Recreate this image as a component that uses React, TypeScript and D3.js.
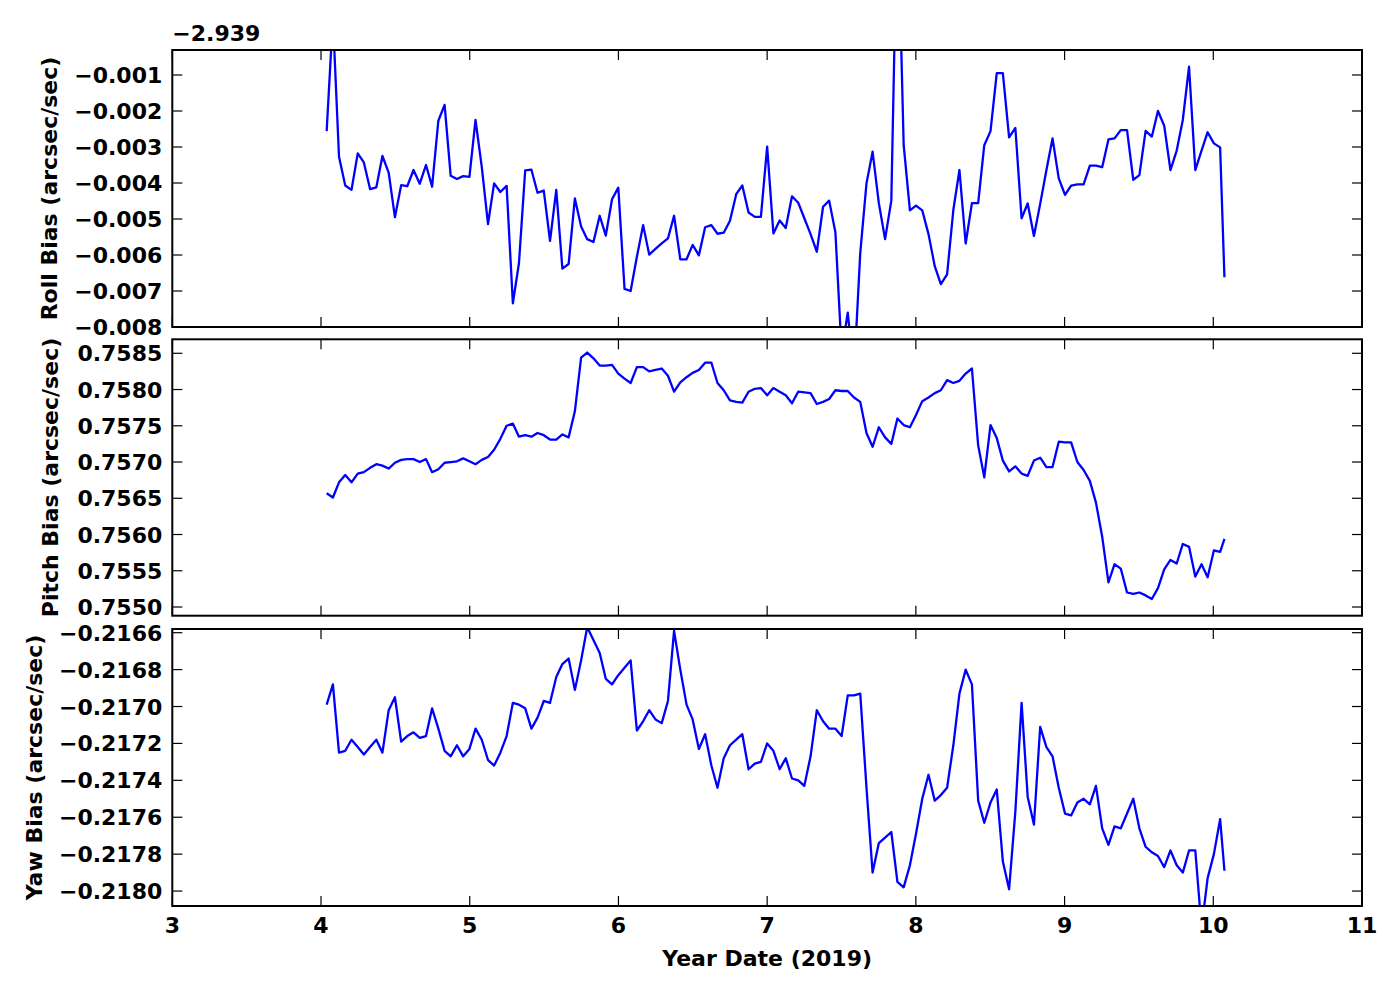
import React from 'react';
import * as d3 from 'd3';

// Year dates (2019) of each sample
const yearDates = [
  4.038, 4.080, 4.121, 4.163, 4.205, 4.247, 4.288, 4.330, 4.372, 4.413,
  4.455, 4.497, 4.539, 4.580, 4.622, 4.664, 4.706, 4.747, 4.789, 4.831,
  4.872, 4.914, 4.956, 4.998, 5.039, 5.081, 5.123, 5.164, 5.206, 5.248,
  5.290, 5.331, 5.373, 5.415, 5.456, 5.498, 5.540, 5.582, 5.623, 5.665,
  5.707, 5.749, 5.790, 5.832, 5.874, 5.915, 5.957, 5.999, 6.041, 6.082,
  6.124, 6.166, 6.207, 6.249, 6.291, 6.333, 6.374, 6.416, 6.458, 6.499,
  6.541, 6.583, 6.625, 6.666, 6.708, 6.750, 6.792, 6.833, 6.875, 6.917,
  6.958, 7.000, 7.042, 7.084, 7.125, 7.167, 7.209, 7.250, 7.292, 7.334,
  7.376, 7.417, 7.459, 7.501, 7.542, 7.584, 7.626, 7.668, 7.709, 7.751,
  7.793, 7.835, 7.876, 7.918, 7.960, 8.001, 8.043, 8.085, 8.127, 8.168,
  8.210, 8.252, 8.293, 8.335, 8.377, 8.419, 8.460, 8.502, 8.544, 8.585,
  8.627, 8.669, 8.711, 8.752, 8.794, 8.836, 8.878, 8.919, 8.961, 9.003,
  9.044, 9.086, 9.128, 9.170, 9.211, 9.253, 9.295, 9.336, 9.378, 9.420,
  9.462, 9.503, 9.545, 9.587, 9.628, 9.670, 9.712, 9.754, 9.795, 9.837,
  9.879, 9.921, 9.962, 10.004, 10.046, 10.075,
];

// Roll bias, shown relative to the axis offset
const ROLL_OFFSET = -2.939;
const rollBias = [
  -0.00256, 0.0006, -0.00327, -0.00407, -0.00419, -0.00318, -0.00343, -0.00417, -0.00412, -0.00325,
  -0.00371, -0.00495, -0.00406, -0.00409, -0.00364, -0.00402, -0.0035, -0.0041, -0.00227, -0.00183,
  -0.0038, -0.00389, -0.00381, -0.00383, -0.00225, -0.00355, -0.00514, -0.00401, -0.00425, -0.00408,
  -0.00734, -0.00623, -0.00365, -0.00363, -0.00427, -0.00421, -0.00561, -0.00419, -0.00638, -0.00625,
  -0.00443, -0.00521, -0.00556, -0.00564, -0.00491, -0.00546, -0.00445, -0.00413, -0.00694, -0.007,
  -0.00605, -0.00517, -0.00599, -0.00583, -0.00568, -0.00554, -0.00491, -0.00612, -0.00612, -0.00572,
  -0.00601, -0.00523, -0.00517, -0.00541, -0.00538, -0.00505, -0.00431, -0.00407, -0.00482, -0.00494,
  -0.00494, -0.00299, -0.0054, -0.00504, -0.00525, -0.00437, -0.00455, -0.00498, -0.00542, -0.00591,
  -0.00466, -0.00449, -0.00537, -0.0087, -0.0076, -0.0093, -0.00595, -0.00401, -0.00313, -0.00456,
  -0.00556, -0.00449, 0.004, -0.00294, -0.00476, -0.00463, -0.00476, -0.00542, -0.00631, -0.00681,
  -0.00654, -0.00475, -0.00364, -0.00568, -0.00456, -0.00456, -0.00295, -0.00256, -0.00095, -0.00095,
  -0.00273, -0.00247, -0.00498, -0.00457, -0.00547, -0.00458, -0.00364, -0.00276, -0.00387, -0.00433,
  -0.00407, -0.00404, -0.00404, -0.00352, -0.00352, -0.00356, -0.00279, -0.00276, -0.00253, -0.00253,
  -0.00391, -0.00378, -0.00255, -0.00271, -0.002, -0.00241, -0.00364, -0.0031, -0.00225, -0.00077,
  -0.00364, -0.0031, -0.00259, -0.0029, -0.00301, -0.00662,
];

const pitchBias = [
  0.75657, 0.75651, 0.75672, 0.75682, 0.75672, 0.75684, 0.75686, 0.75692, 0.75697, 0.75695,
  0.75691, 0.75699, 0.75703, 0.75704, 0.75704, 0.757, 0.75704, 0.75686, 0.7569, 0.75699,
  0.757, 0.75701, 0.75705, 0.75701, 0.75697, 0.75703, 0.75707, 0.75717, 0.75732, 0.7575,
  0.75753, 0.75735, 0.75737, 0.75735, 0.7574, 0.75737, 0.75731, 0.75731, 0.75738, 0.75734,
  0.7577, 0.75844, 0.75851, 0.75843, 0.75833, 0.75833, 0.75834, 0.75822, 0.75815, 0.75809,
  0.75831, 0.75831, 0.75825, 0.75827, 0.75829, 0.75819, 0.75797, 0.7581, 0.75817, 0.75823,
  0.75827, 0.75837, 0.75837, 0.75809, 0.75799, 0.75785, 0.75783, 0.75782, 0.75797, 0.75801,
  0.75802, 0.75792, 0.75802, 0.75797, 0.75792, 0.75781, 0.75797, 0.75796, 0.75795, 0.7578,
  0.75783, 0.75787, 0.75799, 0.75798, 0.75798, 0.75789, 0.75783, 0.7574, 0.75721, 0.75748,
  0.75734, 0.75725, 0.7576, 0.75751, 0.75748, 0.75765, 0.75784, 0.75789, 0.75795, 0.75799,
  0.75813, 0.75809, 0.75812, 0.75822, 0.75829, 0.75723, 0.75679, 0.75751, 0.75733, 0.75702,
  0.75687, 0.75694, 0.75684, 0.75681, 0.75702, 0.75706, 0.75693, 0.75693, 0.75728, 0.75727,
  0.75727, 0.757, 0.75689, 0.75674, 0.75644, 0.75597, 0.75534, 0.75559, 0.75553, 0.7552,
  0.75518, 0.7552, 0.75516, 0.75511, 0.75526, 0.75552, 0.75565, 0.7556, 0.75587, 0.75583,
  0.75542, 0.75559, 0.75541, 0.75578, 0.75576, 0.75594,
];

const yawBias = [
  -0.21699, -0.21688, -0.21725, -0.21724, -0.21718, -0.21722, -0.21726, -0.21722, -0.21718, -0.21725,
  -0.21702, -0.21695, -0.21719, -0.21716, -0.21714, -0.21717, -0.21716, -0.21701, -0.21712, -0.21724,
  -0.21727, -0.21721, -0.21727, -0.21723, -0.21712, -0.21718, -0.21729, -0.21732, -0.21725, -0.21716,
  -0.21698, -0.21699, -0.21701, -0.21712, -0.21706, -0.21697, -0.21698, -0.21684, -0.21677, -0.21674,
  -0.21691, -0.21675, -0.21657, -0.21664, -0.21671, -0.21685, -0.21688, -0.21683, -0.21679, -0.21675,
  -0.21713, -0.21708, -0.21702, -0.21707, -0.21709, -0.21697, -0.21659, -0.2168, -0.21699, -0.21707,
  -0.21723, -0.21715, -0.21732, -0.21744, -0.21728, -0.21721, -0.21718, -0.21715, -0.21734, -0.21731,
  -0.2173, -0.2172, -0.21724, -0.21734, -0.21728, -0.21739, -0.2174, -0.21743, -0.21727, -0.21702,
  -0.21708, -0.21712, -0.21712, -0.21716, -0.21694, -0.21694, -0.21693, -0.21744, -0.2179, -0.21774,
  -0.21771, -0.21768, -0.21795, -0.21798, -0.21786, -0.21769, -0.2175, -0.21737, -0.21751, -0.21748,
  -0.21744, -0.21721, -0.21693, -0.2168, -0.21688, -0.21751, -0.21763, -0.21752, -0.21745, -0.21784,
  -0.21799, -0.21757, -0.21698, -0.21749, -0.21764, -0.21711, -0.21722, -0.21727, -0.21744, -0.21758,
  -0.21759, -0.21752, -0.2175, -0.21753, -0.21743, -0.21766, -0.21775, -0.21765, -0.21766, -0.21758,
  -0.2175, -0.21766, -0.21776, -0.21779, -0.21781, -0.21787, -0.21778, -0.21786, -0.2179, -0.21778,
  -0.21778, -0.2182, -0.21793, -0.2178, -0.21761, -0.21789,
];

const xTicks = [3, 4, 5, 6, 7, 8, 9, 10, 11];
const rollTicks = [-0.008, -0.007, -0.006, -0.005, -0.004, -0.003, -0.002, -0.001];
const pitchTicks = [0.755, 0.7555, 0.756, 0.7565, 0.757, 0.7575, 0.758, 0.7585];
const yawTicks = [-0.218, -0.2178, -0.2176, -0.2174, -0.2172, -0.217, -0.2168, -0.2166];

const W = 1400;
const H = 1000;
const LEFT = 172.3;
const RIGHT = 1362;
const FONT = "'DejaVu Sans', sans-serif";
const TICK_FS = 22;
const TICK_LEN = 10;

export default function App() {
  const x = d3.scaleLinear().domain([3, 11]).range([LEFT, RIGHT]);

  const panels = [
    {
      key: 'roll', top: 50, bottom: 327, domain: [-0.008, -0.000306],
      values: rollBias, ticks: rollTicks, fmt: d3.format('.3f'),
      label: 'Roll Bias (arcsec/sec)', labelX: 56.5,
    },
    {
      key: 'pitch', top: 339.3, bottom: 615.7, domain: [0.75488, 0.758693],
      values: pitchBias, ticks: pitchTicks, fmt: d3.format('.4f'),
      label: 'Pitch Bias (arcsec/sec)', labelX: 58,
    },
    {
      key: 'yaw', top: 629, bottom: 906, domain: [-0.218081, -0.21658],
      values: yawBias, ticks: yawTicks, fmt: d3.format('.4f'),
      label: 'Yaw Bias (arcsec/sec)', labelX: 41.5,
    },
  ];

  return (
    <svg width={W} height={H} style={{ position: 'absolute', left: 0, top: 0, background: '#fff' }}
      fontFamily={FONT} fontWeight="bold">
      <rect x={0} y={0} width={W} height={H} fill="#fff" />
      <defs>
        {panels.map((p) => (
          <clipPath id={`clip-${p.key}`} key={p.key}>
            <rect x={LEFT} y={p.top} width={RIGHT - LEFT} height={p.bottom - p.top} />
          </clipPath>
        ))}
      </defs>
      {panels.map((p, pi) => {
        const y = d3.scaleLinear().domain(p.domain).range([p.bottom, p.top]);
        const line = d3.line<number>()
          .x((_, i) => x(yearDates[i]))
          .y((d) => y(d));
        return (
          <g key={p.key}>
            <path d={line(p.values) || ''} fill="none" stroke="#0000ff" strokeWidth={2.3}
              strokeLinejoin="round" clipPath={`url(#clip-${p.key})`} />
            {p.ticks.map((t) => (
              <g key={`y${t}`}>
                <line x1={LEFT} x2={LEFT + TICK_LEN} y1={y(t)} y2={y(t)} stroke="#000" strokeWidth={1.2} />
                <line x1={RIGHT - TICK_LEN} x2={RIGHT} y1={y(t)} y2={y(t)} stroke="#000" strokeWidth={1.2} />
                <text x={LEFT - 10} y={y(t)} dy={8} textAnchor="end" fontSize={TICK_FS}>{p.fmt(t)}</text>
              </g>
            ))}
            {xTicks.map((t) => (
              <g key={`x${t}`}>
                <line x1={x(t)} x2={x(t)} y1={p.bottom} y2={p.bottom - TICK_LEN} stroke="#000" strokeWidth={1.2} />
                <line x1={x(t)} x2={x(t)} y1={p.top} y2={p.top + TICK_LEN} stroke="#000" strokeWidth={1.2} />
                {pi === panels.length - 1 && (
                  <text x={x(t)} y={932.5} textAnchor="middle" fontSize={TICK_FS}>{String(t)}</text>
                )}
              </g>
            ))}
            <rect x={LEFT} y={p.top} width={RIGHT - LEFT} height={p.bottom - p.top}
              fill="none" stroke="#000" strokeWidth={2} />
            <text transform={`translate(${p.labelX},${(p.top + p.bottom) / 2}) rotate(-90)`}
              textAnchor="middle" fontSize={TICK_FS}>{p.label}</text>
          </g>
        );
      })}
      <text x={LEFT} y={40.7} fontSize={TICK_FS}>{d3.format('.3f')(ROLL_OFFSET)}</text>
      <text x={(LEFT + RIGHT) / 2} y={966} textAnchor="middle" fontSize={TICK_FS}>Year Date (2019)</text>
    </svg>
  );
}
